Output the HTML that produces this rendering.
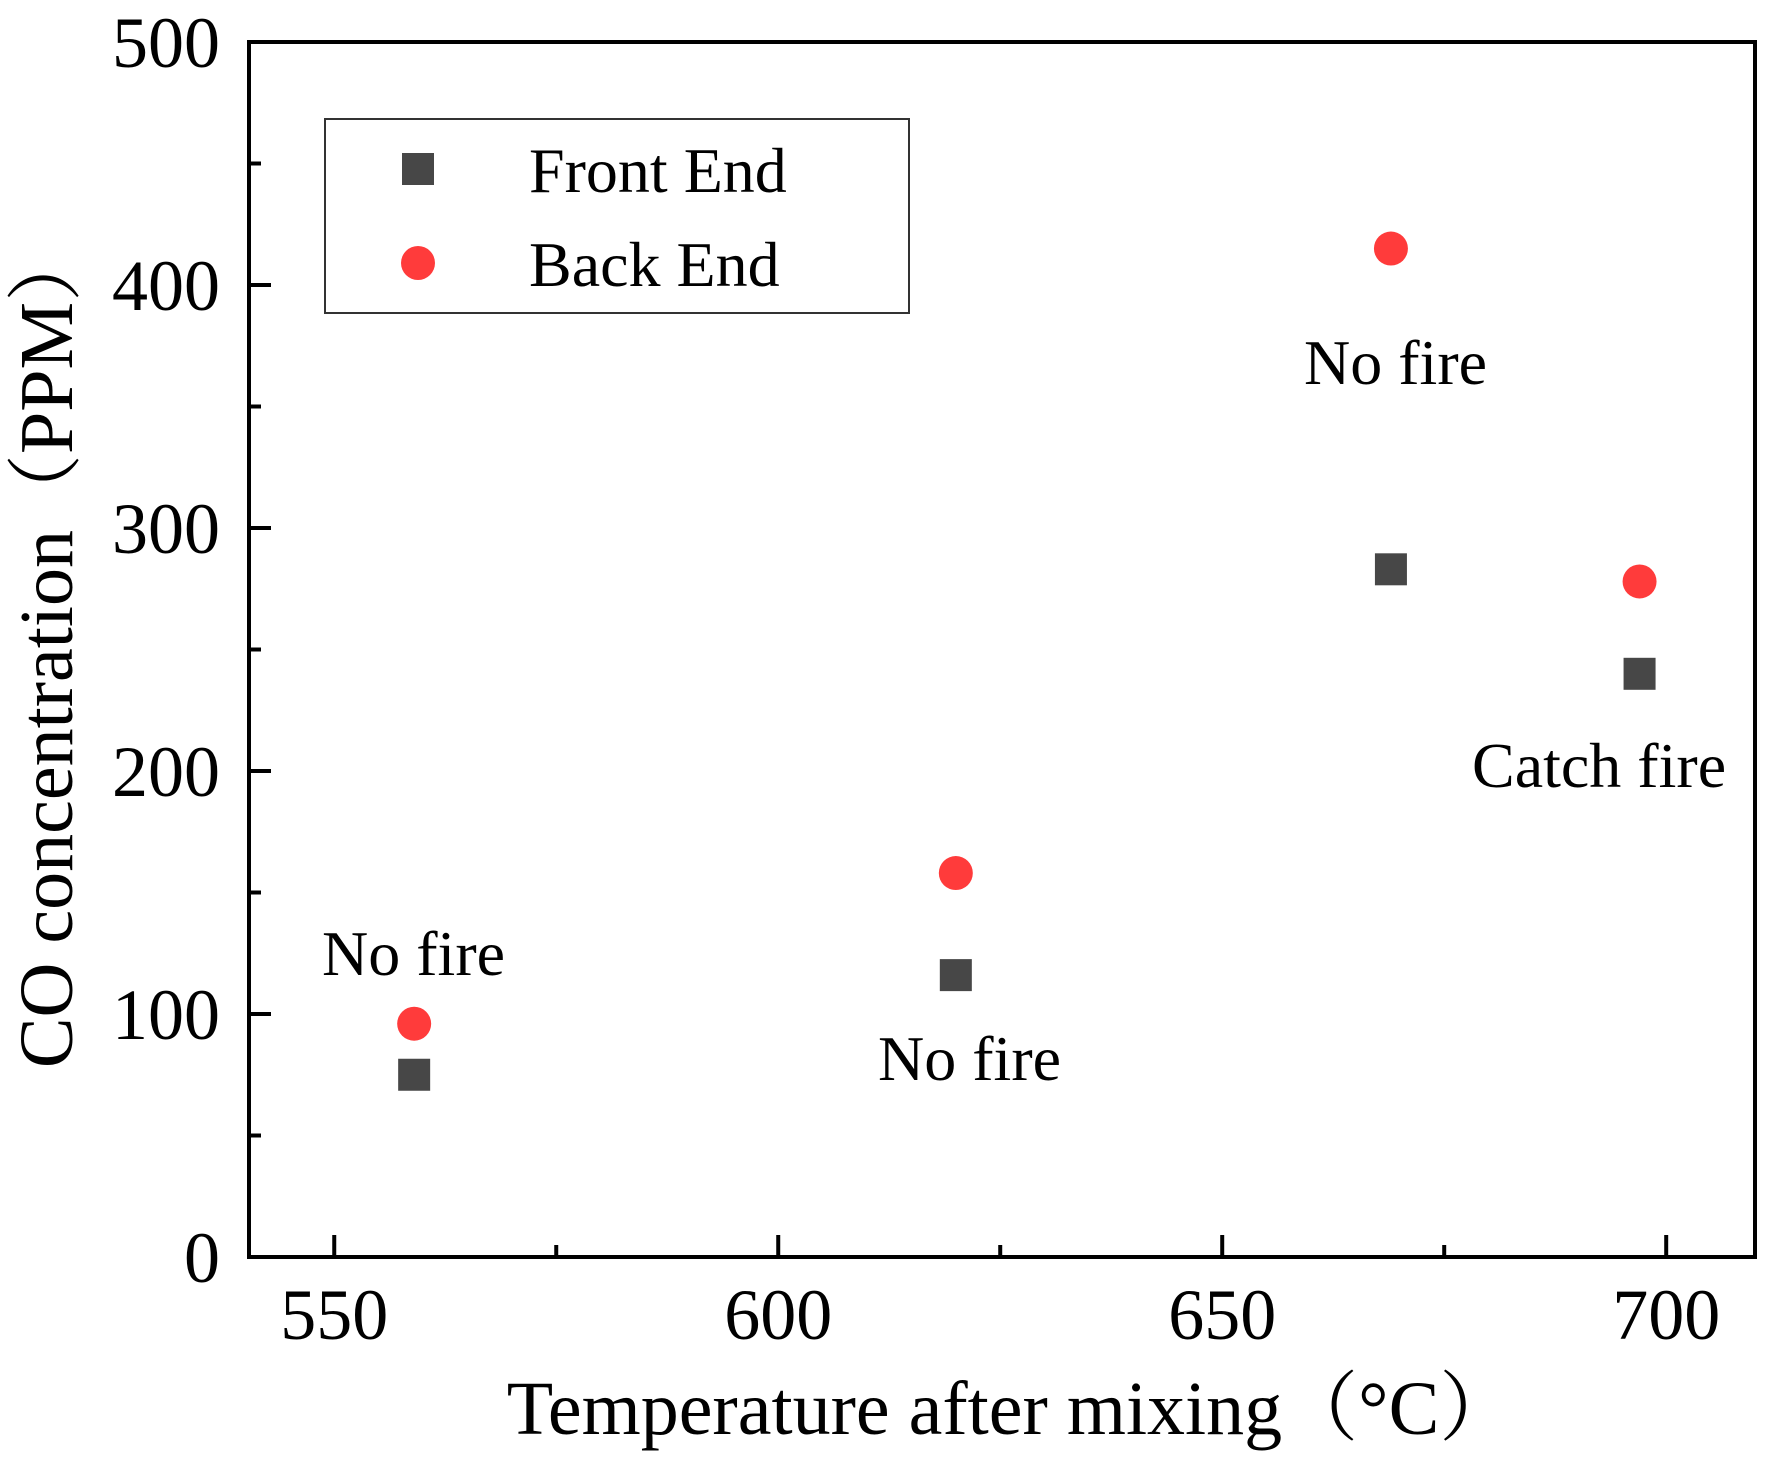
<!DOCTYPE html>
<html><head><meta charset="utf-8"><style>
body{margin:0;background:#fff}
svg{display:block}
text{font-family:"Liberation Serif","Noto Serif CJK SC",serif;fill:#000}
</style></head><body>
<svg width="1780" height="1466" viewBox="0 0 1780 1466">
<g id="axes"></g>
<g id="marks"></g>
<g>
<rect x="325" y="119" width="584" height="194" fill="#fff" stroke="#333" stroke-width="2"/>
<rect x="402" y="153" width="32" height="32" fill="#474747"/>
<text x="529" y="192" font-size="64">Front End</text>
<circle cx="418" cy="263" r="17" fill="#ff3b3b"/>
<text x="529" y="286" font-size="64">Back End</text>
</g>
<text x="322" y="975" font-size="64">No fire</text>
<text x="878" y="1080" font-size="64">No fire</text>
<text x="1304" y="384" font-size="64">No fire</text>
<text x="1472" y="787" font-size="64">Catch fire</text>
<text x="1011" y="1434" font-size="76" text-anchor="middle">Temperature after mixing（°C）</text>
<text transform="translate(72,647) rotate(-90)" font-size="76" text-anchor="middle">CO concentration（PPM）</text>
</svg>
<script>
const temps=[559,620,669,697];
const frontEnd=[75,116,283,240];
const backEnd=[96,158,415,278];
const xTicks=[550,600,650,700];
const yTicks=[0,100,200,300,400,500];
const L=249,R=1755,T=42,B=1257,x0=540.4,x1=710,y0=0,y1=500;
const sx=v=>L+(v-x0)/(x1-x0)*(R-L);
const sy=v=>B-(v-y0)/(y1-y0)*(B-T);
const NS='http://www.w3.org/2000/svg';
const ax=document.getElementById('axes'),mk=document.getElementById('marks');
function mkEl(t,a,p){const e=document.createElementNS(NS,t);for(const k in a)e.setAttribute(k,a[k]);p.appendChild(e);return e;}
const fr=mkEl('rect',{x:L,y:T,width:R-L,height:B-T,fill:'none',stroke:'#000','stroke-width':4},ax);


for(let v=550;v<=700;v+=25){const maj=v%50===0;const t=mkEl('line',{x1:sx(v),x2:sx(v),y1:B,y2:B-(maj?22:12),stroke:'#000','stroke-width':4},ax);

}
for(let v=0;v<=500;v+=50){const maj=v%100===0;const t=mkEl('line',{x1:L,x2:L+(maj?22:12),y1:sy(v),y2:sy(v),stroke:'#000','stroke-width':4},ax);

}
xTicks.forEach(v=>{const t=mkEl('text',{x:sx(v),y:1339,'font-size':72,'text-anchor':'middle'},ax);t.textContent=v;

});
yTicks.forEach(v=>{const t=mkEl('text',{x:220,y:sy(v)+25,'font-size':72,'text-anchor':'end'},ax);t.textContent=v;

});
temps.forEach((t,i)=>{
const s=mkEl('rect',{x:sx(t)-16,y:sy(frontEnd[i])-16,width:32,height:32,fill:'#474747'},mk);


const c=mkEl('circle',{cx:sx(t),cy:sy(backEnd[i]),r:17,fill:'#ff3b3b'},mk);


});
</script>
</body></html>
